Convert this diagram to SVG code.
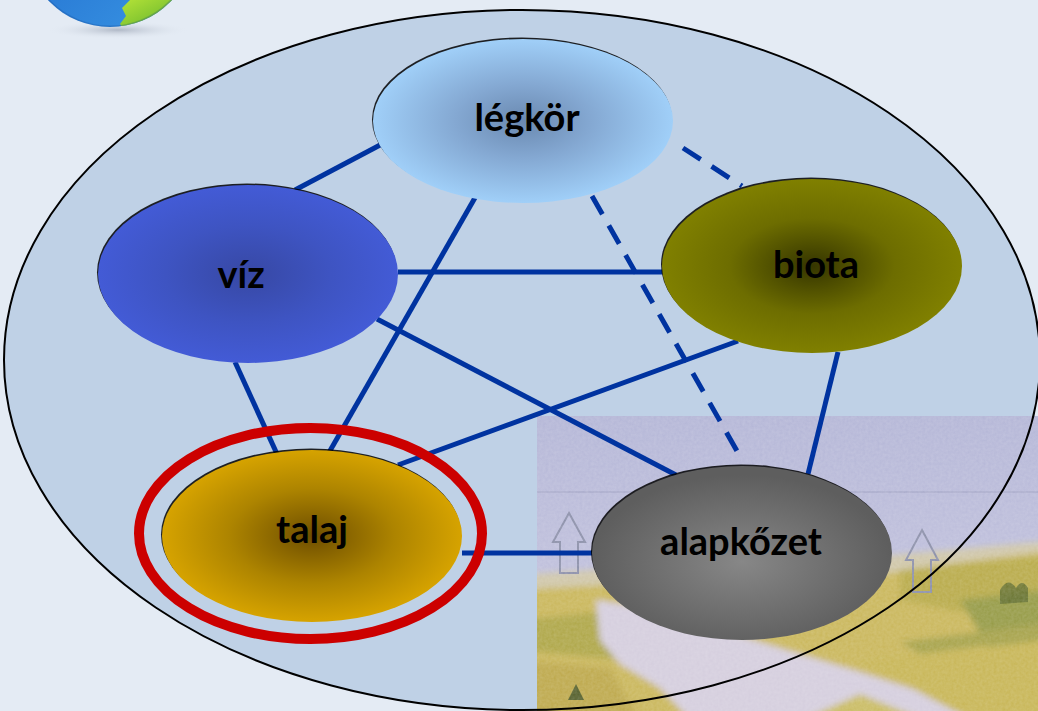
<svg xmlns="http://www.w3.org/2000/svg" width="1038" height="711" viewBox="0 0 1038 711">
  <style>
    .label { font-family: Lato, "Open Sans", "Liberation Sans", sans-serif; font-weight: bold; font-size: 38px; fill: #000; text-anchor: middle; }
    .link { stroke: #0033a0; stroke-width: 5; fill: none; stroke-linecap: butt; }
    .dash { stroke-dasharray: 21 13; }
    .rim { fill: #000; fill-opacity: 0.85; }
    .arrow { fill: none; stroke: #8a8ea8; stroke-width: 2; }
  </style>
  <defs>
    <radialGradient id="gLegkor" cx="50%" cy="50%" r="50%">
      <stop offset="0" stop-color="#6a89b0"/>
      <stop offset="0.45" stop-color="#84a8d2"/>
      <stop offset="1" stop-color="#a0cff8"/>
    </radialGradient>
    <radialGradient id="gViz" cx="50%" cy="50%" r="50%">
      <stop offset="0" stop-color="#3748a4"/>
      <stop offset="0.55" stop-color="#3e54c2"/>
      <stop offset="1" stop-color="#435bd6"/>
    </radialGradient>
    <radialGradient id="gBiota" cx="50%" cy="50%" r="50%">
      <stop offset="0" stop-color="#353500"/>
      <stop offset="0.55" stop-color="#6d6d00"/>
      <stop offset="1" stop-color="#808000"/>
    </radialGradient>
    <radialGradient id="gTalaj" cx="50%" cy="50%" r="50%">
      <stop offset="0" stop-color="#6e4e00"/>
      <stop offset="0.55" stop-color="#ad8400"/>
      <stop offset="1" stop-color="#d6a300"/>
    </radialGradient>
    <radialGradient id="gAlap" cx="50%" cy="55%" r="50%">
      <stop offset="0" stop-color="#878787"/>
      <stop offset="1" stop-color="#5e5e5e"/>
    </radialGradient>
    <linearGradient id="gSky" x1="0" y1="0" x2="0" y2="1">
      <stop offset="0" stop-color="#b3b5d6"/>
      <stop offset="0.6" stop-color="#c0c0dc"/>
      <stop offset="1" stop-color="#cdc8dc"/>
    </linearGradient>
    <linearGradient id="gGlobeBlue" x1="0" y1="0" x2="1" y2="1">
      <stop offset="0" stop-color="#1b62c8"/>
      <stop offset="1" stop-color="#3c9ae6"/>
    </linearGradient>
    <linearGradient id="gGlobeGreen" x1="0" y1="0" x2="1" y2="1">
      <stop offset="0" stop-color="#c6ec3a"/>
      <stop offset="1" stop-color="#4aa628"/>
    </linearGradient>
    <radialGradient id="gShadow" cx="50%" cy="50%" r="50%">
      <stop offset="0" stop-color="#9aa3b3" stop-opacity="0.7"/>
      <stop offset="1" stop-color="#e4ebf4" stop-opacity="0"/>
    </radialGradient>
    <clipPath id="clipGlobe">
      <circle cx="110" cy="-58" r="85"/>
    </clipPath>
    <clipPath id="clipScene">
      <rect x="537" y="416" width="501" height="295"/>
    </clipPath>
    <filter id="grain" x="0" y="0" width="100%" height="100%">
      <feTurbulence type="fractalNoise" baseFrequency="0.35" numOctaves="2" seed="4"/>
      <feColorMatrix type="matrix" values="0 0 0 0 1  0 0 0 0 1  0 0 0 0 1  0 0 0 0.18 0"/>
      <feComposite in2="SourceGraphic" operator="in"/>
    </filter>
    <filter id="soft" x="-5%" y="-5%" width="110%" height="110%">
      <feGaussianBlur stdDeviation="3"/>
    </filter>
  </defs>

  <!-- page background -->
  <rect width="1038" height="711" fill="#e4ebf4"/>

  <!-- globe emblem in the corner -->
  <g id="globe">
    <ellipse cx="118" cy="30" rx="72" ry="9" fill="url(#gShadow)"/>
    <g clip-path="url(#clipGlobe)">
      <rect x="20" y="-150" width="200" height="180" fill="url(#gGlobeBlue)"/>
      <path d="M118 -10 L130 0 L122 8 L126 16 L120 24 L124 30 L200 30 L200 -10 Z" fill="url(#gGlobeGreen)"/>
      <circle cx="110" cy="-58" r="85" fill="none" stroke="#0e3f8a" stroke-opacity="0.25" stroke-width="3"/>
    </g>
  </g>

  <!-- outer system boundary -->
  <ellipse id="system" cx="522" cy="360" rx="518" ry="350" fill="#bfd1e6"/>

  <!-- landscape illustration -->
  <g id="landscape" clip-path="url(#clipScene)">
    <rect x="537" y="416" width="501" height="295" fill="url(#gSky)"/>
    <line x1="537" y1="492" x2="1038" y2="492" stroke="#a7a9c9" stroke-width="1.5"/>
    <g filter="url(#soft)">
      <!-- distant land -->
      <path d="M520 575 L620 568 L720 566 L840 560 L950 550 L1060 540 L1060 730 L520 730 Z" fill="#cfc6a8"/>
      <path d="M520 590 L620 584 L720 592 L820 585 L930 566 L1060 550 L1060 730 L520 730 Z" fill="#c9b65a"/>
      <path d="M900 570 L1060 554 L1060 600 L960 612 L900 600 Z" fill="#b8aa48"/>
      <path d="M960 600 L1060 588 L1060 640 L990 650 Z" fill="#959a44"/>
      <path d="M520 620 L600 612 L680 640 L620 660 L520 650 Z" fill="#aea647"/>
      <path d="M520 660 L610 668 L645 730 L520 730 Z" fill="#bda84c"/>
      <!-- chalky valley -->
      <path d="M596 600 L660 610 L760 642 L860 672 L960 704 L1000 730 L700 730 L660 688 L620 664 L600 640 Z" fill="#d4cddd"/>
      <path d="M780 730 L860 694 L950 730 Z" fill="#c9bb62"/>
      <path d="M860 662 L1060 638 L1060 730 L990 730 L900 682 Z" fill="#c7b555"/>
      <path d="M900 642 L1060 622 L1060 636 L920 654 Z" fill="#a6a24a"/>
    </g>
    <path d="M1000 590 q8 -14 16 -2 q6 -10 12 0 l0 14 l-28 2 Z" fill="#5d6a2c" opacity="0.8"/>
    <path d="M568 700 l8 -16 l8 16 Z" fill="#55602c"/>
    <!-- up arrows -->
    <path class="arrow" d="M569 513 L585 542 L578 542 L578 573 L560 573 L560 542 L553 542 Z"/>
    <path class="arrow" d="M922 530 L938 560 L931 560 L931 592 L913 592 L913 560 L906 560 Z"/>
    <rect x="537" y="416" width="501" height="295" fill="#fff" filter="url(#grain)"/>
  </g>

  <ellipse cx="522" cy="360" rx="518" ry="350" fill="none" stroke="#000" stroke-width="2"/>

  <!-- relations between the spheres -->
  <g id="connectors">
    <line class="link" x1="382" y1="144" x2="295" y2="190"/>
    <line class="link" x1="476" y1="196" x2="327" y2="456"/>
    <line class="link" x1="398" y1="272" x2="664" y2="272"/>
    <line class="link" x1="377" y1="319" x2="676" y2="475"/>
    <line class="link" x1="235" y1="362" x2="277" y2="454"/>
    <line class="link" x1="738" y1="341" x2="398" y2="465"/>
    <line class="link" x1="838" y1="352" x2="808" y2="474"/>
    <line class="link" x1="462" y1="553" x2="594" y2="553"/>
    <line class="link dash" x1="683" y1="148" x2="742" y2="186"/>
    <line class="link dash" x1="592" y1="196" x2="741" y2="458"/>
  </g>

  <g id="legkor">
    <ellipse class="rim" cx="522" cy="119.5" rx="150" ry="82"/>
    <ellipse cx="523" cy="121" rx="150" ry="82" fill="url(#gLegkor)"/>
    <text class="label" x="527" y="131">légkör</text>
  </g>

  <g id="viz">
    <ellipse class="rim" cx="247" cy="272.5" rx="150" ry="89"/>
    <ellipse cx="248" cy="274" rx="150" ry="89" fill="url(#gViz)"/>
    <text class="label" x="241" y="288">víz</text>
  </g>

  <g id="biota">
    <ellipse class="rim" cx="811" cy="264.5" rx="150" ry="87"/>
    <ellipse cx="812" cy="266" rx="150" ry="87" fill="url(#gBiota)"/>
    <text class="label" x="816" y="278">biota</text>
  </g>

  <g id="talaj">
    <ellipse class="rim" cx="311" cy="534.5" rx="150" ry="86"/>
    <ellipse cx="312" cy="536" rx="150" ry="86" fill="url(#gTalaj)"/>
    <text class="label" x="312" y="543">talaj</text>
    <ellipse cx="310.5" cy="533.5" rx="171.5" ry="105.5" fill="none" stroke="#cc0000" stroke-width="10"/>
  </g>

  <g id="alapkozet">
    <ellipse class="rim" cx="741" cy="551.5" rx="150" ry="87"/>
    <ellipse cx="742" cy="553" rx="150" ry="87" fill="url(#gAlap)"/>
    <text class="label" x="741" y="555">alapkőzet</text>
  </g>
</svg>
